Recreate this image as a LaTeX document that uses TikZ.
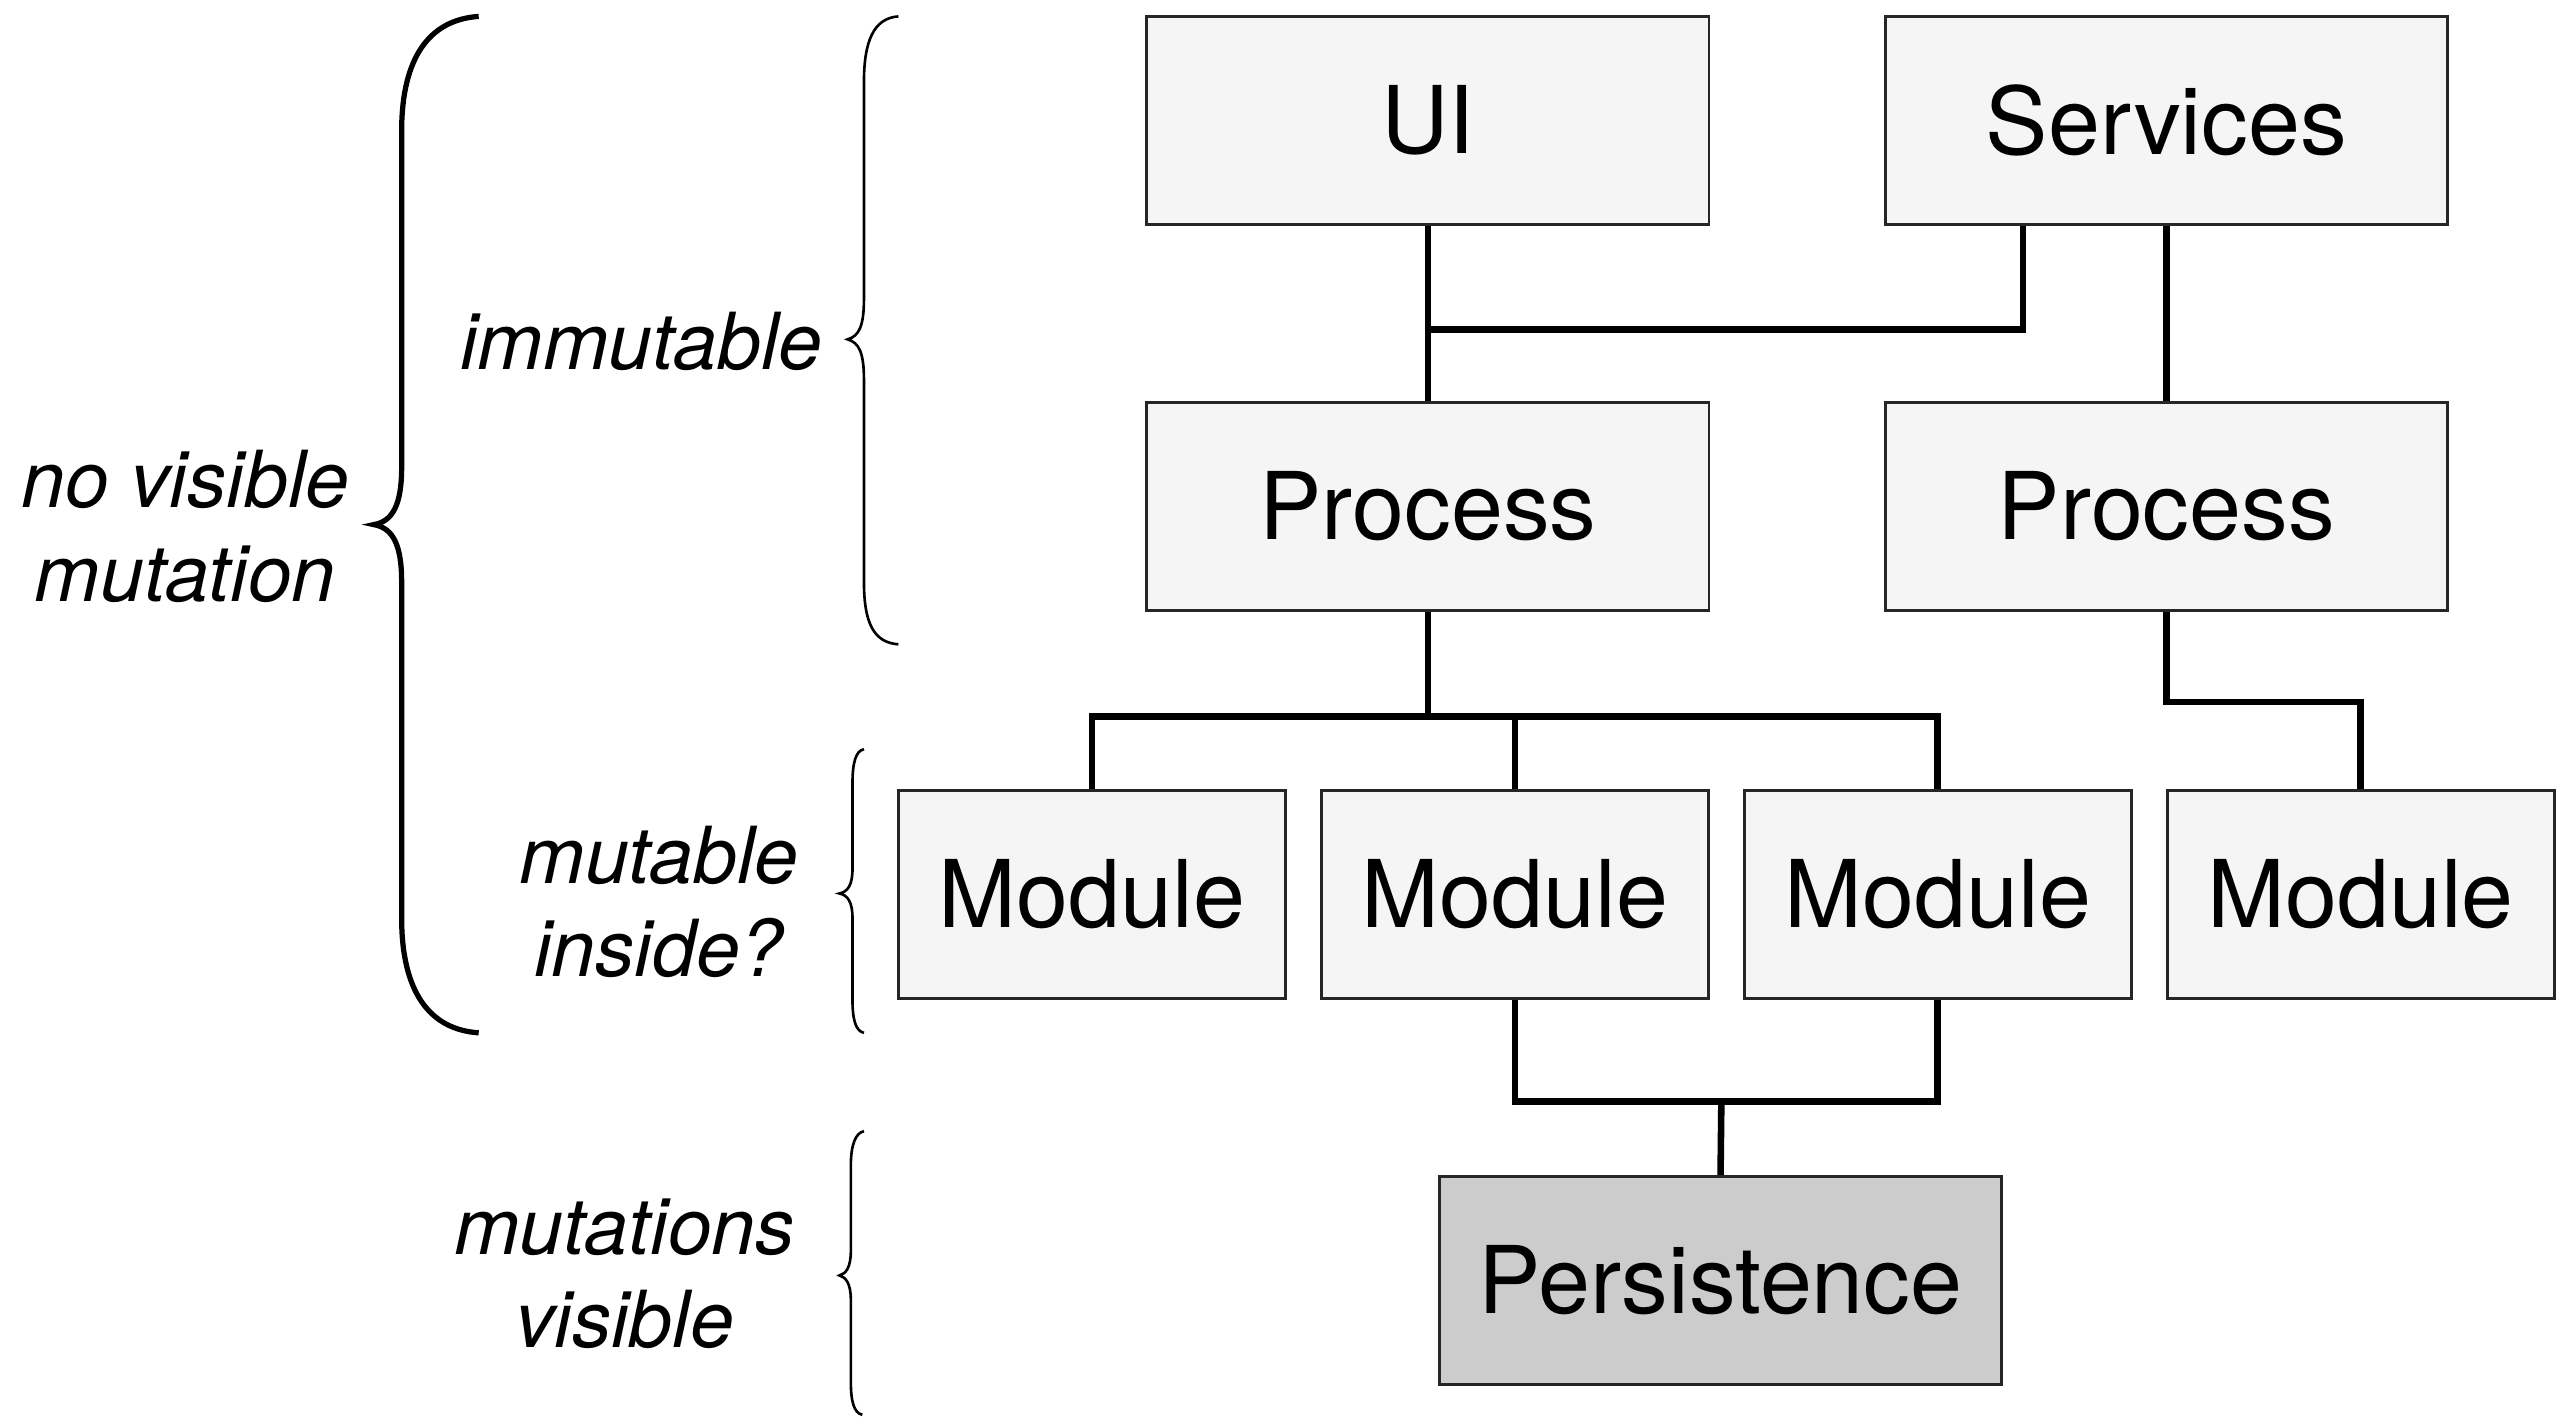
\documentclass[tikz,border=0pt]{standalone}
\usepackage{fontspec}
\setmainfont{TeX Gyre Heros}
\begin{document}
\begin{tikzpicture}[x=0.5pt,y=-0.5pt]
       \tikzset{box/.style={draw=black!85, fill=black!4, line width=0.8pt, inner sep=0pt,
                            minimum width=171.5pt, minimum height=63.5pt,
                            font=\fontsize{28.5}{34}\selectfont}}
       \tikzset{modbox/.style={box, minimum width=118pt}}
       \tikzset{storebox/.style={box, fill=black!20}}
       \tikzset{wire/.style={draw, line width=2pt}}
       \tikzset{note/.style={align=center, inner sep=0pt, font=\fontsize{24}{28.5}\selectfont\itshape}}
       \tikzset{curly/.style={draw, line width=0.8pt}}
       \useasboundingbox (0,0) rectangle (1564,864);
       % boxes
       \node[box] (ui) at (871,73.5) {UI};
       \node[box] (srv) at (1321.5,73.5) {Services};
       \node[box] (procA) at (871,309) {Process};
       \node[box] (procB) at (1321.5,309) {Process};
       \node[modbox] (modA) at (666,545.5) {Module};
       \node[modbox] (modB) at (924,545.5) {Module};
       \node[modbox] (modC) at (1182,545.5) {Module};
       \node[modbox] (modD) at (1440,545.5) {Module};
       \node[storebox] (store) at (1049.5,781) {Persistence};
       % connectors
       \coordinate (busA) at (871,201);
       \coordinate (busB) at (871,437);
       \coordinate (busC) at (1050,672);
       \draw[wire] (ui.south) -- (procA.north);
       \draw[wire] ([xshift=-43.75pt]srv.south) |- (busA);
       \draw[wire] (srv.south) -- (procB.north);
       \draw[wire] (procA.south) -- (busB);
       \draw[wire] (modA.north) |- (busB) -| (modC.north);
       \draw[wire] (modB.north) -- (modB.north |- busB);
       \draw[wire] (procB.south) -- ++(0,55) -| (modD.north);
       \draw[wire] (modB.south) |- (busC) -| (modC.south);
       \draw[wire] (busC) -- (store.north);
       % labels
       \node[note] (lblAll) at (113,321) {no visible\\mutation};
       \node[note, anchor=east] (lblImm) at (502,208) {immutable};
       \node[note] (lblIn) at (402,550) {mutable\\inside?};
       \node[note] (lblVis) at (381,777) {mutations\\visible};
       % braces
       \draw[curly, line width=1.6pt] (292,10) .. controls (262,12) and (245,35) .. (245,80)
             -- (245,285) .. controls (245,307) and (240,318) .. (228,320)
             .. controls (240,322) and (245,333) .. (245,355)
             -- (245,560) .. controls (245,605) and (262,628) .. (292,630);
       \draw[curly] (548,10) .. controls (533,11) and (527,25) .. (527,50)
             -- (527,182) .. controls (527,199) and (524,205) .. (517,207)
             .. controls (524,209) and (527,215) .. (527,232)
             -- (527,355) .. controls (527,380) and (533,392) .. (548,393);
       \draw[curly] (527,457) .. controls (522,458) and (520,465) .. (520,478)
             -- (520,530) .. controls (520,540) and (517,544) .. (512,545)
             .. controls (517,546) and (520,550) .. (520,560)
             -- (520,610) .. controls (520,622) and (522,629) .. (527,630);
       \draw[curly] (527,690) .. controls (522,691) and (519,698) .. (519,711)
             -- (519,763) .. controls (519,773) and (516,777) .. (512,778)
             .. controls (516,779) and (519,783) .. (519,793)
             -- (519,843) .. controls (519,855) and (521,862) .. (526,863);
\end{tikzpicture}
\end{document}
